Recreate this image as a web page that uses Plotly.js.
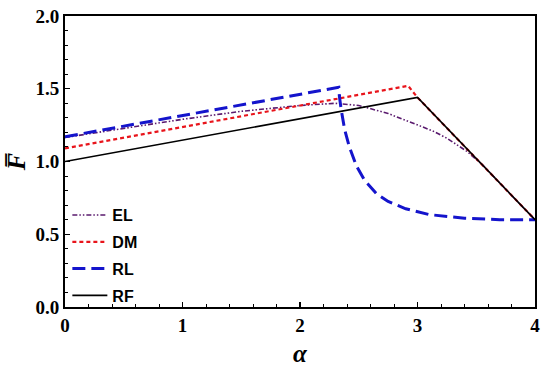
<!DOCTYPE html>
<html>
<head>
<meta charset="utf-8">
<script src="https://cdn.plot.ly/plotly-3.0.1.min.js"></script>
<style>html,body{margin:0;padding:0;background:#fff;}#chart{width:550px;height:367px;}</style>
</head>
<body>
<div id="chart"></div>
<script>
// EL
const elX = [0, 0.5, 1.0, 1.5, 2.0, 2.3, 2.5, 2.75, 3.0, 3.13, 3.25, 3.42, 3.55, 3.7, 3.85, 4.0];
const elY = [1.165, 1.23, 1.29, 1.345, 1.385, 1.40, 1.385, 1.33, 1.25, 1.21, 1.16, 1.07, 0.98, 0.85, 0.725, 0.6];
// DM
const dmX = [0, 2.92, 3.0, 4.0];
const dmY = [1.09, 1.52, 1.44, 0.6];
// RL
const rlX = [0, 2.33, 2.335, 2.35, 2.38, 2.42, 2.48, 2.55, 2.65, 2.75, 2.9, 3.1, 3.4, 3.7, 4.0];
const rlY = [1.17, 1.51, 1.45, 1.36, 1.22, 1.10, 0.97, 0.87, 0.78, 0.725, 0.675, 0.635, 0.61, 0.60, 0.60];
// RF
const rfX = [0, 3.0, 4.0];
const rfY = [1.0, 1.44, 0.6];

const names = ['EL', 'DM', 'RL', 'RF'];
const xTicks = [0, 1, 2, 3, 4];
const xTickText = ['0', '1', '2', '3', '4'];
const yTicks = [0, 0.5, 1.0, 1.5, 2.0];
const yTickText = ['0.0', '0.5', '1.0', '1.5', '2.0'];

const traces = [
  {x: elX, y: elY, name: names[0], legendgroup: 'a', mode: 'lines',
   line: {color: '#5a1a6e', width: 1.6, dash: '5px,2px,1.5px,2px,1.5px,2px'}},
  {x: dmX, y: dmY, name: names[1], legendgroup: 'b', mode: 'lines',
   line: {color: '#e8141b', width: 2.2, dash: '4px,3px'}},
  {x: rlX, y: rlY, name: names[2], legendgroup: 'c', mode: 'lines',
   line: {color: '#1414cc', width: 3, dash: '13px,6px'}},
  {x: rfX, y: rfY, name: names[3], legendgroup: 'd', mode: 'lines',
   line: {color: '#000000', width: 1.6}}
];

const tickFont = {family: 'Liberation Serif', size: 19, color: '#000', weight: 700};
const bold = a => a.map(s => '<b>' + s + '</b>');

const layout = {
  width: 550, height: 367,
  margin: {l: 65, r: 15, t: 16, b: 60},
  paper_bgcolor: '#fff', plot_bgcolor: '#fff',
  showlegend: true,
  legend: {
    x: 0.005, y: -0.021, xanchor: 'left', yanchor: 'bottom',
    bgcolor: 'rgba(255,255,255,0)',
    font: {family: 'Liberation Sans, Arial, sans-serif', size: 16, color: '#000', weight: 'bold'},
    tracegroupgap: 3, traceorder: 'grouped', itemwidth: 35
  },
  xaxis: {
    range: [0, 4], tickvals: xTicks, ticktext: bold(xTickText),
    ticks: 'inside', ticklen: 5, tickwidth: 1.2, tickcolor: '#000',
    minor: {dtick: 0.2, ticks: 'inside', ticklen: 3, tickwidth: 1, tickcolor: '#000', showgrid: false},
    showline: true, linecolor: '#000', linewidth: 2, mirror: true,
    showgrid: false, zeroline: false, tickfont: tickFont,
    title: {text: '<b><i>α</i></b>', font: {family: 'Liberation Serif, Times New Roman, serif', size: 25, color: '#000'}, standoff: 10}
  },
  yaxis: {
    range: [0, 2], tickvals: yTicks, ticktext: bold(yTickText),
    ticks: 'inside', ticklen: 5, tickwidth: 1.2, tickcolor: '#000',
    minor: {dtick: 0.1, ticks: 'inside', ticklen: 3, tickwidth: 1, tickcolor: '#000', showgrid: false},
    showline: true, linecolor: '#000', linewidth: 2, mirror: true,
    showgrid: false, zeroline: false, tickfont: tickFont,
    title: {text: '<b><i>F\u0305</i></b>', font: {family: 'Liberation Serif, Times New Roman, serif', size: 26, color: '#000'}, standoff: 2}
  }
};

Plotly.newPlot('chart', traces, layout, {displayModeBar: false, staticPlot: true});
</script>
</body>
</html>
